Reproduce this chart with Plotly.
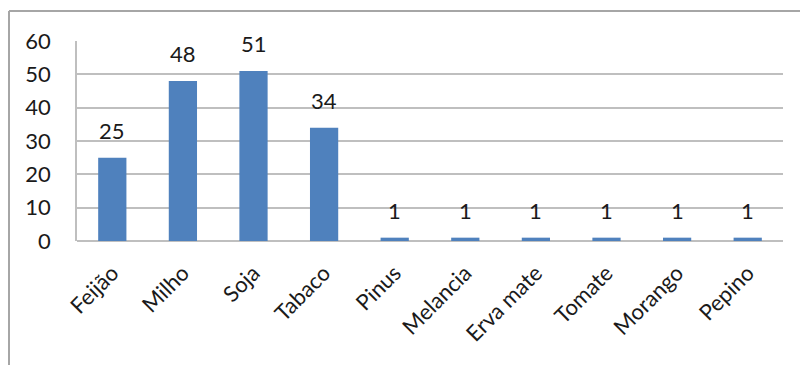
import plotly.graph_objects as go

categories = ["Feijão", "Milho", "Soja", "Tabaco", "Pinus", "Melancia", "Erva mate", "Tomate", "Morango", "Pepino"]
values = [25, 48, 51, 34, 1, 1, 1, 1, 1, 1]
y_ticks = [0, 10, 20, 30, 40, 50, 60]

W, H = 800, 365
L, R, T, B = 77, 17, 41, 124
pw, ph = W - L - R, H - T - B

font = dict(family="Lato, 'Open Sans', sans-serif", size=22, color="#1a1a1a")

fig = go.Figure(go.Bar(
    x=categories, y=values,
    marker=dict(color="#4F81BD", line=dict(width=0)),
    width=0.4,
))

for c, v in zip(categories, values):
    fig.add_annotation(x=c, y=v, text=str(v), showarrow=False,
                       yanchor="bottom", yshift=12, font=font)

def px_x(p):
    return (p - L) / pw

def px_y(p):
    return (H - B - p) / ph

border = "#A6A6A6"
fig.add_shape(type="line", xref="paper", yref="paper",
              x0=px_x(9), x1=px_x(805), y0=px_y(11), y1=px_y(11),
              line=dict(color=border, width=2))
fig.add_shape(type="line", xref="paper", yref="paper",
              x0=px_x(9), x1=px_x(9), y0=px_y(11), y1=px_y(370),
              line=dict(color=border, width=2))

fig.update_layout(
    width=W, height=H,
    margin=dict(l=L, r=R, t=T, b=B),
    paper_bgcolor="white", plot_bgcolor="white",
    font=font,
    showlegend=False,
    bargap=0.6,
)
fig.update_xaxes(tickangle=-45, showgrid=False, showline=False,
                 ticks="", tickfont=font, ticklabelstandoff=14)
fig.update_yaxes(range=[0, 60], tickvals=y_ticks, showgrid=True,
                 gridcolor="#BFBFBF", gridwidth=1.5,
                 showline=True, linecolor="#BFBFBF", linewidth=1.5,
                 zeroline=True, zerolinecolor="#BFBFBF", zerolinewidth=1.5,
                 ticks="", ticklabelstandoff=20, tickfont=font)

fig.write_html("out.html")
